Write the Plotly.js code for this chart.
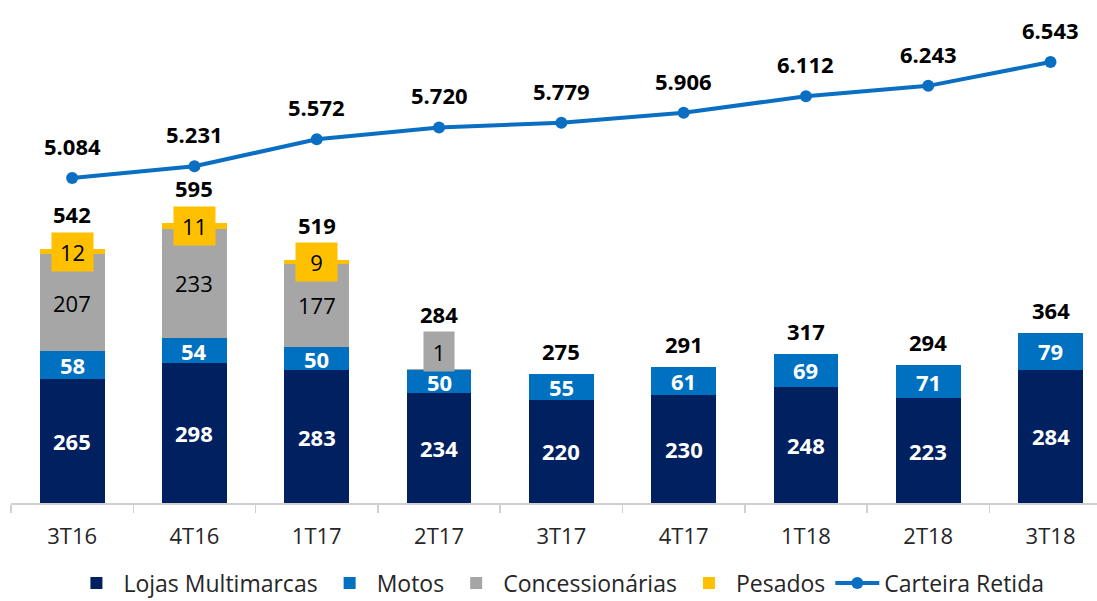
<!DOCTYPE html>
<html>
<head>
<meta charset="utf-8">
<script src="https://cdn.plot.ly/plotly-3.0.1.min.js"></script>
<style>html,body{margin:0;padding:0;background:#fff;}#chart{width:1097px;height:601px;}</style>
</head>
<body>
<div id="chart"></div>
<script>
const categories = ["3T16","4T16","1T17","2T17","3T17","4T17","1T18","2T18","3T18"];
const lojas = [265, 298, 283, 234, 220, 230, 248, 223, 284];
const motos = [58, 54, 50, 50, 55, 61, 69, 71, 79];
const concessionarias = [207, 233, 177, 1, 0, 0, 0, 0, 0];
const pesados = [12, 11, 9, 0, 0, 0, 0, 0, 0];
const totals = [542, 595, 519, 284, 275, 291, 317, 294, 364];
const carteira = [5.084, 5.231, 5.572, 5.720, 5.779, 5.906, 6.112, 6.243, 6.543];
const carteiraLabels = ["5.084","5.231","5.572","5.720","5.779","5.906","6.112","6.243","6.543"];

const FONT = "Open Sans, Liberation Sans, sans-serif";
const colors = {lojas:"#002060", motos:"#0070C0", conc:"#A6A6A6", pes:"#FFC000", line:"#0A6FC2"};

const series = [
  {name:"Lojas Multimarcas", y:lojas, color:colors.lojas, txt:"#FFFFFF", bold:true},
  {name:"Motos", y:motos, color:colors.motos, txt:"#FFFFFF", bold:true},
  {name:"Concessionárias", y:concessionarias, color:colors.conc, txt:"#000000", bold:false},
  {name:"Pesados", y:pesados, color:colors.pes, txt:"#000000", bold:false}
];

const traces = series.map(s => ({
  type:"bar", name:s.name, x:categories, y:s.y,
  marker:{color:s.color, line:{width:0}}, width:0.53,
  hoverinfo:"skip"
}));

traces.push({
  type:"scatter", mode:"lines+markers", name:"Carteira Retida",
  x:categories, y:carteira, yaxis:"y2",
  line:{color:colors.line, width:4}, marker:{color:colors.line, size:12},
  hoverinfo:"skip"
});

const annotations = [];
const cum = categories.map(() => 0);
series.forEach((s, si) => {
  s.y.forEach((v, i) => {
    const base = cum[i];
    cum[i] += v;
    if (v <= 0) return;
    const mid = base + v / 2;
    const small = v < 30;
    const a = {
      x:categories[i], y:mid, xref:"x", yref:"y", showarrow:false,
      text: s.bold ? "<b>" + v + "</b>" : String(v),
      font:{family:FONT, size:22, color:s.txt},
      yanchor:"middle"
    };
    if (small) {
      a.bgcolor = s.color;
      a.borderpad = 6;
      if (si === 2) { a.width = 18; a.height = 27; a.yshift = 18; }
      else { a.width = 29; a.height = 26; }
    }
    annotations.push(a);
  });
});

totals.forEach((t, i) => {
  let shift = 23;
  if (pesados[i] > 0) shift = 35;
  else if (concessionarias[i] > 0 && concessionarias[i] < 30) shift = 55;
  annotations.push({
    x:categories[i], y:cum[i], xref:"x", yref:"y", showarrow:false,
    text:"<b>" + t + "</b>", font:{family:FONT, size:22, color:"#000000"},
    yanchor:"middle", yshift:shift
  });
});

carteira.forEach((v, i) => {
  annotations.push({
    x:categories[i], y:v, xref:"x", yref:"y2", showarrow:false,
    text:"<b>" + carteiraLabels[i] + "</b>", font:{family:FONT, size:22, color:"#000000"},
    yanchor:"middle", yshift:32
  });
});

const layout = {
  width:1097, height:601,
  margin:{l:11, r:0, t:10, b:98, pad:0, autoexpand:false},
  paper_bgcolor:"#FFFFFF", plot_bgcolor:"#FFFFFF",
  barmode:"stack", bargap:0.47,
  font:{family:FONT, color:"#262626"},
  xaxis:{
    type:"category", range:[-0.5, 8.38],
    showline:true, linecolor:"#D0D0D0", linewidth:1.5,
    ticks:"outside", tickson:"boundaries", ticklen:8, tickcolor:"#D0D0D0", tickwidth:1.5,
    tickfont:{family:FONT, size:22, color:"#262626"},
    ticklabelstandoff:13, automargin:false,
    showgrid:false, zeroline:false, fixedrange:true
  },
  yaxis:{range:[0, 1051], visible:false, showgrid:false, zeroline:false},
  yaxis2:{range:[0.996, 7.197], overlaying:"y", side:"right", visible:false, showgrid:false, zeroline:false},
  showlegend:true,
  legend:{
    orientation:"h", x:0.505, xanchor:"center", xref:"paper",
    y:0.03, yanchor:"middle", yref:"container",
    traceorder:"normal", font:{family:FONT, size:23, color:"#262626"},
    itemwidth:44, tracegroupgap:0, bgcolor:"rgba(0,0,0,0)"
  },
  annotations:annotations
};

Plotly.newPlot("chart", traces, layout, {staticPlot:true, displayModeBar:false});
</script>
</body>
</html>
